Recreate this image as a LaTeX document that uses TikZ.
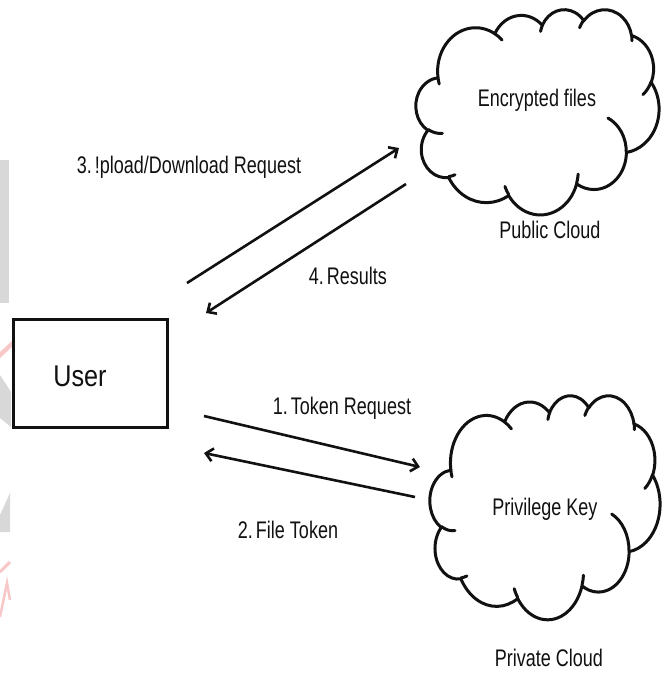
\documentclass[tikz,border=0pt]{standalone}
\usepackage{fontspec}
\setmainfont{Liberation Sans}
\usetikzlibrary{arrows.meta}

% Elliptic arc continuing the current path; #3 and #4 are the start
% angle and the sweep measured as visual directions from the centre.
\newcommand\oarc[4]{%
  \pgfextra{%
    \pgfmathsetmacro\oarcA{atan2((#1)*sin(#3),(#2)*cos(#3))}%
    \pgfmathsetmacro\oarcB{atan2((#1)*sin(#3+#4),(#2)*cos(#3+#4))}%
    \pgfmathsetmacro\oarcB{\oarcB+360*round((\oarcA+#4-\oarcB)/360)}%
    \xdef\oarcA{\oarcA}\xdef\oarcB{\oarcB}}%
  arc[start angle=\oarcA, end angle=\oarcB, x radius=#1, y radius=#2]}

% Cloud outline in a 432 x 432 box
\newcommand\cloudoutline{%
  (39.00,143.70)
  \oarc{67.53}{91.90}{-190.4875}{123.7805}
  \oarc{53.33}{72.67}{-144.1024}{89.9452}
  \oarc{43.65}{59.45}{-145.8079}{99.7230}
  \oarc{48.57}{65.95}{-130.9861}{117.2417}
  \oarc{53.33}{72.73}{-78.7089}{109.0269}
  \oarc{67.75}{92.20}{-46.2673}{130.2690}
  \oarc{57.85}{78.67}{0.6250}{114.0333}
  \oarc{67.52}{92.15}{22.4516}{115.1726}
  \oarc{77.20}{105.43}{66.2426}{75.7110}
  \oarc{43.60}{59.18}{-274.9421}{146.7356}
  \oarc{43.45}{59.45}{-246.8285}{152.5189}
  -- cycle}

% Small inner strokes of the cloud
\newcommand\cloudhooks{%
  (46.93,261.77) \oarc{43.45}{59.45}{86.7420}{26.4295}
  (69.28,348.99) \oarc{43.60}{59.18}{73.6105}{11.4475}
  (164.78,390.90) \oarc{67.52}{92.15}{137.6242}{14.0811}
  (288.27,347.51) \oarc{67.52}{92.15}{6.4533}{15.9984}
  (341.29,229.54) \oarc{57.85}{78.67}{-70.2924}{70.9174}
  (417.98,153.54) \oarc{53.33}{72.73}{30.3180}{27.7515}
  (383.24,54.26) \oarc{48.57}{65.95}{-13.7443}{14.8589}
  (290.78,39.52) \oarc{48.57}{65.95}{-149.1815}{18.1954}
  (221.41,47.20) \oarc{43.65}{59.45}{-163.4943}{17.6864}
  (140.00,51.92) \oarc{67.53}{91.90}{-66.7070}{12.3194}
  (41.27,157.89) \oarc{67.53}{91.90}{157.6544}{11.8582}}

\newcommand\narrowtext[1]{\scalebox{0.75}[1]{#1}}

\definecolor{inkc}{HTML}{111111}
\definecolor{wmgray}{HTML}{D8D8D8}
\definecolor{wmpink}{HTML}{F8C8C8}

\tikzset{
  lbl/.style={inner sep=0pt, text=inkc, font=\fontsize{24}{28}\selectfont},
  cloudline/.style={draw=inkc, line width=3pt, line join=round, line cap=round},
  flow/.style={draw=inkc, line width=2.6pt,
    -{Straight Barb[length=7pt,width=13pt,line width=2.6pt]}},
  userbox/.style={draw=inkc, line width=3pt, fill=white,
    minimum width=154pt, minimum height=108pt, inner sep=0pt},
}

\begin{document}
\begin{tikzpicture}[x=1pt, y=-1pt]
\useasboundingbox (0,0) rectangle (669,673);
\fill[white] (0,0) rectangle (669,673);

% faint logo fragments along the left edge
\fill[wmgray] (0,160) rectangle (9,303);
\fill[wmpink] (0,352) -- (13,340) -- (13,346) -- (0,358) -- cycle;
\fill[wmgray] (0,375) -- (11,392) -- (11,427) -- (0,418) -- cycle;
\fill[wmgray] (0,515) -- (10,493) -- (10,532) -- (0,532) -- cycle;
\draw[wmpink, line width=3pt] (0,572) -- (10,562);
\draw[wmpink, line width=2.5pt] (0,617) -- (7,583) -- (10,600);

% public cloud
\begin{scope}[shift={(416,9)}, x=0.5625pt, y=-0.4750pt]
  \path[cloudline, fill=white] \cloudoutline;
  \path[cloudline] \cloudhooks;
\end{scope}
% private cloud
\begin{scope}[shift={(430,395)}, x=0.5324pt, y=-0.5185pt]
  \path[cloudline, fill=white] \cloudoutline;
  \path[cloudline] \cloudhooks;
\end{scope}

% nodes
\node[userbox] (user) at (90,373) {};
\node[lbl, font=\fontsize{30}{34}\selectfont] (usertext) at (80,376) {\scalebox{0.84}[1]{User}};
\node[lbl] (pubtext) at (537,100) {\narrowtext{Encrypted files}};
\node[lbl] (pubname) at (550,230) {\narrowtext{Public Cloud}};
\node[lbl] (privtext) at (545,509) {\narrowtext{Privilege Key}};
\node[lbl] (privname) at (549,658) {\narrowtext{Private Cloud}};

% connector end points
\coordinate (upS) at (187,283);
\coordinate (upE) at (399,148);
\coordinate (resS) at (406,184);
\coordinate (resE) at (206,313);
\coordinate (tokS) at (204,416);
\coordinate (tokE) at (420,467);
\coordinate (fileS) at (415,497);
\coordinate (fileE) at (204,453);

\draw[flow] (upS) -- (upE);
\draw[flow] (resS) -- (resE);
\draw[flow] (tokS) -- (tokE);
\draw[flow] (fileS) -- (fileE);

% connector labels
\node[lbl] (l3) at (189,167) {\narrowtext{3.\,!pload/Download Request}};
\node[lbl] (l4) at (348,276) {\narrowtext{4.\,Results}};
\node[lbl] (l1) at (342,408) {\narrowtext{1.\,Token Request}};
\node[lbl] (l2) at (288,530) {\narrowtext{2.\,File Token}};
\end{tikzpicture}
\end{document}
